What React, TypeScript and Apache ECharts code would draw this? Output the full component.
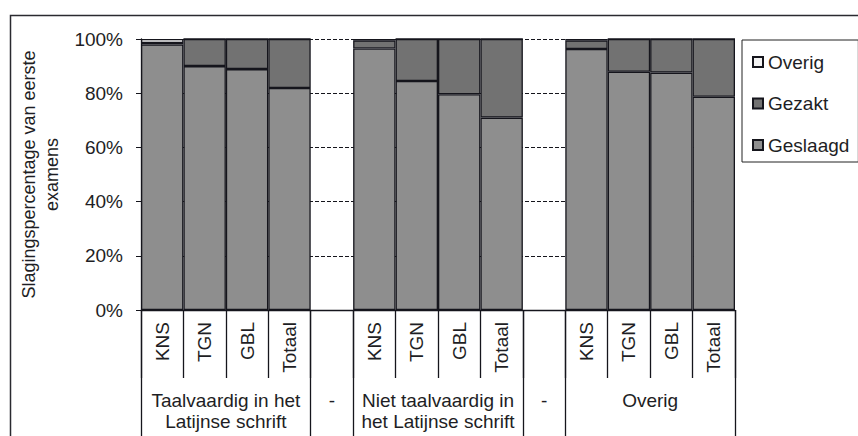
import React, { useEffect, useRef } from "react";
import * as echarts from "echarts";

const categories = ["KNS", "TGN", "GBL", "Totaal", "", "KNS", "TGN", "GBL", "Totaal", "", "KNS", "TGN", "GBL", "Totaal"];
const geslaagd = [98.0, 90.0, 88.9, 81.9, null, 96.5, 84.5, 79.6, 71.0, null, 96.3, 87.9, 87.6, 78.7];
const gezakt = [0.5, 10.0, 11.1, 18.1, null, 3.0, 15.5, 20.4, 29.0, null, 3.2, 12.1, 12.4, 21.3];
const overig = [1.5, 0, 0, 0, null, 0.5, 0, 0, 0, null, 0.5, 0, 0, 0];

const groupLabels = ["Taalvaardig in het\nLatijnse schrift", "-", "Niet taalvaardig in\nhet Latijnse schrift", "-", "Overig"];
const groupSizes = [4, 1, 4, 1, 4];

const yTicks = [0, 20, 40, 60, 80, 100];

const FONT = "'Liberation Sans', Arial, sans-serif";
const TXT = "#1e1e24";
const LINE = "#15151c";

export default function App() {
  const ref = useRef<HTMLDivElement>(null);

  useEffect(() => {
    if (!ref.current) return;
    const chart = echarts.init(ref.current, undefined, { renderer: "svg" });

    // half-category grid for group axis
    const nHalf = categories.length * 2;
    const halfData = Array.from({ length: nHalf + 1 }, (_, i) => String(i));
    const labelAt: Record<number, string> = {};
    const boundaryAt: Record<number, boolean> = { 0: true };
    let pos = 0;
    groupSizes.forEach((s, gi) => {
      labelAt[pos + s] = groupLabels[gi];
      pos += 2 * s;
      boundaryAt[pos] = true;
    });

    const barStyle = (color: string) => ({ color, borderColor: LINE, borderWidth: 1.3 });

    chart.setOption({
      animation: false,
      backgroundColor: "#ffffff",
      textStyle: { fontFamily: FONT, color: TXT },
      graphic: [
        {
          type: "rect",
          silent: true,
          z: -10,
          shape: { x: 10.5, y: 15.5, width: 900, height: 460 },
          style: { fill: "none", stroke: "#2a2a30", lineWidth: 1.5 },
        },
      ],
      legend: {
        data: ["Overig", "Gezakt", "Geslaagd"],
        orient: "vertical",
        left: 742,
        top: 40,
        padding: [12, 9, 7, 10],
        itemGap: 21.5,
        itemWidth: 10,
        itemHeight: 10,
        icon: "rect",
        borderColor: "#222",
        borderWidth: 1,
        textStyle: { fontSize: 19, lineHeight: 20, color: TXT, fontFamily: FONT },
      },
      grid: { left: 141, right: 123, top: 39, bottom: 126, outerBoundsMode: "none" },
      xAxis: [
        {
          type: "category",
          data: categories,
          position: "bottom",
          axisLine: { show: true, lineStyle: { color: LINE, width: 1.3 } },
          axisTick: { show: true, interval: 0, length: 68, lineStyle: { color: LINE, width: 1.3 } },
          axisLabel: { interval: 0, rotate: 90, margin: 12, fontSize: 19, color: TXT, fontFamily: FONT },
          splitLine: { show: false },
        },
        {
          type: "category",
          data: halfData,
          position: "bottom",
          boundaryGap: false,
          axisLine: { show: false },
          axisTick: {
            show: true,
            length: 128,
            interval: (i: number) => !!boundaryAt[i],
            lineStyle: { color: LINE, width: 1.3 },
          },
          axisLabel: {
            interval: (i: number) => labelAt[i] !== undefined,
            formatter: (v: string) => labelAt[Number(v)] ?? "",
            margin: 80,
            fontSize: 19,
            lineHeight: 21,
            color: TXT,
            fontFamily: FONT,
          },
          splitLine: { show: false },
        },
      ],
      yAxis: {
        type: "value",
        min: yTicks[0],
        max: yTicks[yTicks.length - 1],
        interval: 20,
        name: "Slagingspercentage van eerste\nexamens",
        nameLocation: "middle",
        nameRotate: 90,
        nameGap: 71,
        nameTextStyle: { fontSize: 18, lineHeight: 23, color: TXT, fontFamily: FONT },
        axisLine: { show: true, lineStyle: { color: LINE, width: 1.3 } },
        axisTick: { show: true, length: 5, lineStyle: { color: LINE } },
        axisLabel: { formatter: "{value}%", margin: 18, fontSize: 19, color: TXT, fontFamily: FONT },
        splitLine: { show: true, lineStyle: { color: LINE, type: [4, 2], width: 1 } },
      },
      series: [
        {
          name: "Geslaagd",
          type: "bar",
          stack: "total",
          barCategoryGap: "0%",
          data: geslaagd,
          itemStyle: barStyle("#8e8e8e"),
        },
        {
          name: "Gezakt",
          type: "bar",
          stack: "total",
          data: gezakt,
          itemStyle: barStyle("#727272"),
        },
        {
          name: "Overig",
          type: "bar",
          stack: "total",
          data: overig,
          itemStyle: barStyle("#f2f2f2"),
        },
      ],
    });

    return () => chart.dispose();
  }, []);

  return (
    <div
      ref={ref}
      style={{ position: "fixed", left: 0, top: 0, width: 858, height: 436, background: "#fff" }}
    />
  );
}
